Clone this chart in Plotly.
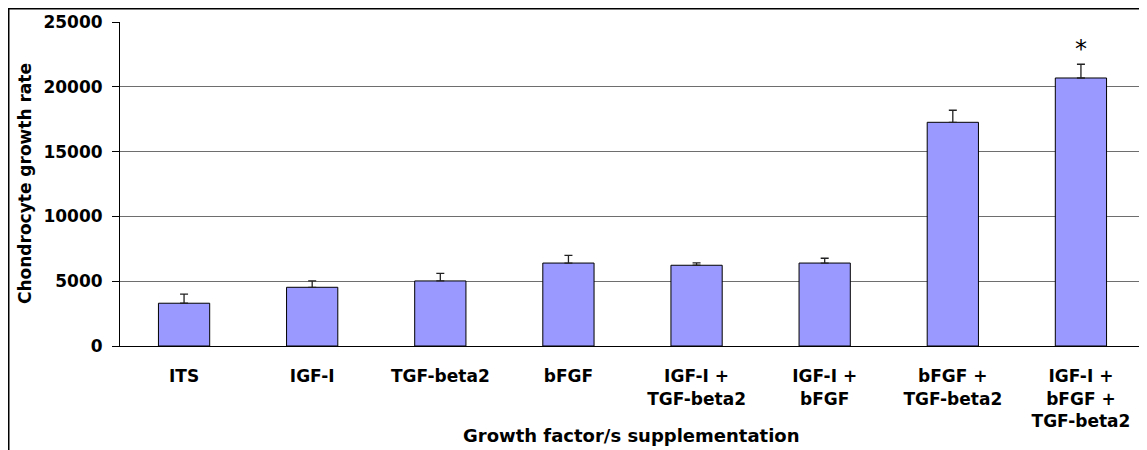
import plotly.graph_objects as go

categories = ["ITS", "IGF-I", "TGF-beta2", "bFGF", "IGF-I +<br>TGF-beta2",
              "IGF-I +<br>bFGF", "bFGF +<br>TGF-beta2", "IGF-I +<br>bFGF +<br>TGF-beta2"]
values = [3300, 4530, 5020, 6400, 6230, 6400, 17260, 20680]
errors = [700, 490, 580, 600, 180, 370, 930, 1060]
y_ticks = [0, 5000, 10000, 15000, 20000, 25000]
y_ticklabels = ["0", "5000", "10000", "15000", "20000", "25000"]

FONT = "DejaVu Sans"

# the page body has an 8px default margin, so the figure is sized 8px smaller
W, H = 1139, 442
L, R, T, B = 112, 2, 14, 104
PW, PH = W - L - R, H - T - B

fig = go.Figure()
fig.add_trace(go.Bar(
    x=categories, y=values,
    width=0.4,
    marker=dict(color="#9999FF", line=dict(color="#000000", width=1)),
    error_y=dict(type="data", symmetric=False, array=errors,
                 arrayminus=[0] * len(errors),
                 color="#222222", thickness=1.3, width=4),
    showlegend=False,
))

fig.add_annotation(x=categories[-1], y=values[-1] + errors[-1], yref="y",
                   text="*", showarrow=False, yshift=15,
                   font=dict(family=FONT, size=24, color="#000000"))

fig.add_annotation(xref="paper", yref="paper", x=0.4995, y=-89 / PH,
                   text="<b>Growth factor/s supplementation</b>", showarrow=False,
                   xanchor="center", yanchor="middle",
                   font=dict(family=FONT, size=18, color="#000000"))
fig.add_annotation(xref="paper", yref="paper", x=-95 / PW, y=0.5,
                   text="<b>Chondrocyte growth rate</b>", showarrow=False,
                   textangle=-90, xanchor="center", yanchor="middle",
                   font=dict(family=FONT, size=17, color="#000000"))

# outer chart frame (left/top drawn just inside the figure edge)
fig.add_shape(type="rect", xref="paper", yref="paper",
              x0=(-L + 0.75) / PW, x1=1 + (R - 1) / PW,
              y0=-0.6, y1=1 + (T - 0.75) / PH,
              line=dict(color="#000000", width=1.5), fillcolor="rgba(0,0,0,0)",
              layer="below")

fig.update_layout(
    width=W, height=H,
    margin=dict(l=L, r=R, t=T, b=B, autoexpand=False),
    plot_bgcolor="#FFFFFF", paper_bgcolor="#FFFFFF",
    bargap=0.6,
)
fig.update_xaxes(
    showline=True, linecolor="#000000", linewidth=1, automargin=False,
    showgrid=False, ticks="", ticklabelstandoff=15,
    tickfont=dict(family=FONT, size=17, color="#000000", weight="bold"),
)
fig.update_yaxes(
    range=[0, 25000], tickvals=y_ticks, ticktext=y_ticklabels,
    showline=True, linecolor="#000000", linewidth=1, automargin=False,
    showgrid=True, gridcolor="#6e6e6e", gridwidth=1,
    ticks="outside", ticklen=7, tickcolor="#000000",
    ticklabelstandoff=6, zeroline=False,
    tickfont=dict(family=FONT, size=17, color="#000000", weight="bold"),
)

fig.write_html("out.html")
